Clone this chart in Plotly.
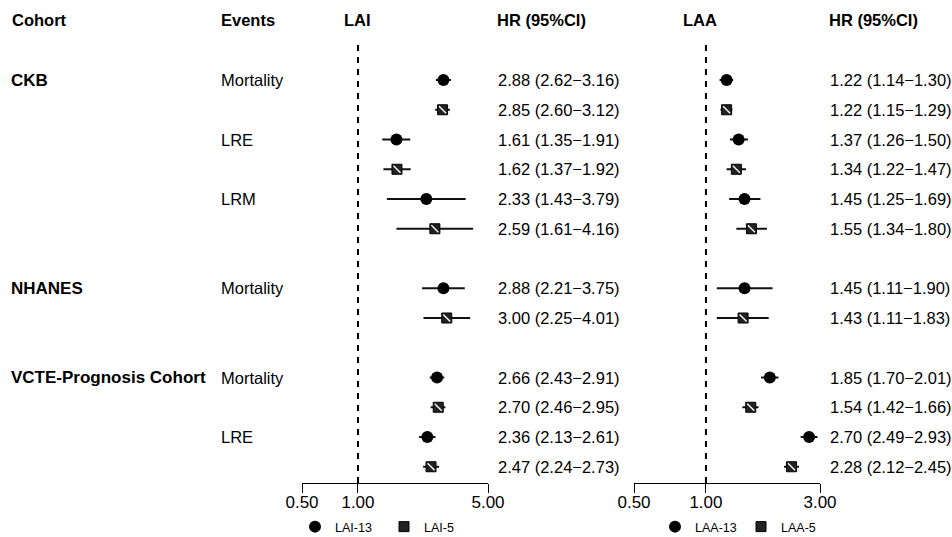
import math
import plotly.graph_objects as go

# ---------------- data ----------------
cohorts = ["CKB", "NHANES", "VCTE-Prognosis Cohort"]
cohort_events = [["Mortality", "LRE", "LRM"], ["Mortality"], ["Mortality", "LRE"]]
cohort_start_rows = [0, 7, 10]

# LAI hazard ratios (order follows cohort/event list)
lai13_hr = [2.88, 1.61, 2.33, 2.88, 2.66, 2.36]
lai13_lo = [2.62, 1.35, 1.43, 2.21, 2.43, 2.13]
lai13_hi = [3.16, 1.91, 3.79, 3.75, 2.91, 2.61]
lai5_hr = [2.85, 1.62, 2.59, 3.00, 2.70, 2.47]
lai5_lo = [2.60, 1.37, 1.61, 2.25, 2.46, 2.24]
lai5_hi = [3.12, 1.92, 4.16, 4.01, 2.95, 2.73]

# LAA hazard ratios
laa13_hr = [1.22, 1.37, 1.45, 1.45, 1.85, 2.70]
laa13_lo = [1.14, 1.26, 1.25, 1.11, 1.70, 2.49]
laa13_hi = [1.30, 1.50, 1.69, 1.90, 2.01, 2.93]
laa5_hr = [1.22, 1.34, 1.55, 1.43, 1.54, 2.28]
laa5_lo = [1.15, 1.22, 1.34, 1.11, 1.42, 2.12]
laa5_hi = [1.29, 1.47, 1.80, 1.83, 1.66, 2.45]

lai_ticks = [0.5, 1.0, 5.0]
lai_ticktext = ["0.50", "1.00", "5.00"]
laa_ticks = [0.5, 1.0, 3.0]
laa_ticktext = ["0.50", "1.00", "3.00"]

headers = ["Cohort", "Events", "LAI", "HR (95%CI)", "LAA", "HR (95%CI)"]

# ---------------- layout helpers ----------------
W = 952
H = 542          # slightly taller than the 537 window so the legend sits near the bottom
FONT = "Liberation Sans, Arial, sans-serif"

def px(x):
    return x / W

# row indices
row13, row5, event_rows, event_labels, cohort_rows = [], [], [], [], []
for ci, evs in enumerate(cohort_events):
    r = cohort_start_rows[ci]
    cohort_rows.append(r)
    for ev in evs:
        row13.append(r)
        row5.append(r + 1)
        event_rows.append(r)
        event_labels.append(ev)
        r += 2

fig = go.Figure()

def add_series(hr, lo, hi, rows, xa, name, legend, hatched):
    err_plus = [h - v for v, h in zip(hr, hi)]
    err_minus = [v - l for v, l in zip(hr, lo)]
    common = dict(
        x=hr, y=rows, xaxis=xa, yaxis="y", mode="markers", name=name,
        legend=legend,
        error_x=dict(type="data", array=err_plus, arrayminus=err_minus,
                     symmetric=False, color="#111111", thickness=2, width=0),
    )
    if not hatched:
        fig.add_trace(go.Scatter(**common, marker=dict(symbol="circle", size=12, color="#000000")))
    else:
        fig.add_trace(go.Scatter(**common, marker=dict(symbol="square", size=10, color="#222222",
                                                        line=dict(color="#000000", width=1))))
        fig.add_trace(go.Scatter(x=hr, y=rows, xaxis=xa, yaxis="y", mode="markers",
                                 showlegend=False, hoverinfo="skip",
                                 marker=dict(symbol="line-nw", size=7,
                                             line=dict(color="#ffffff", width=1.3))))

add_series(lai13_hr, lai13_lo, lai13_hi, row13, "x", "LAI-13", "legend", False)
add_series(lai5_hr, lai5_lo, lai5_hi, row5, "x", "LAI-5", "legend", True)
add_series(laa13_hr, laa13_lo, laa13_hi, row13, "x2", "LAA-13", "legend2", False)
add_series(laa5_hr, laa5_lo, laa5_hi, row5, "x2", "LAA-5", "legend2", True)

# pixel geometry
ROW0 = 80.0
STEP = 29.75
AXIS_PX = 483.0
def row_of(py):
    return (py - ROW0) / STEP

y_bottom = row_of(AXIS_PX)
y_top = row_of(0)

annotations = []
def add_text(x_px, row, text, size, bold=False, anchor="left"):
    annotations.append(dict(
        x=px(x_px), xref="paper", y=row, yref="y", text=(f"<b>{text}</b>" if bold else text),
        showarrow=False, xanchor=anchor, yanchor="middle",
        font=dict(family=FONT, size=size, color="#000000"),
    ))

header_row = row_of(20)
header_x = [(10, "left"), (219, "left"), (357, "center"), (495, "left"), (700, "center"), (827, "left")]
for (hx, anc), t in zip(header_x, headers):
    add_text(hx, header_row, t, 16.5, bold=True, anchor=anc)

for c, r in zip(cohorts, cohort_rows):
    add_text(9, r, c, 17, bold=True)
for e, r in zip(event_labels, event_rows):
    add_text(219, r, e, 16.5)

def fmt(v, l, h):
    return f"{v:.2f} ({l:.2f}\u2212{h:.2f})"

for i in range(len(row13)):
    add_text(496, row13[i], fmt(lai13_hr[i], lai13_lo[i], lai13_hi[i]), 16.5)
    add_text(496, row5[i], fmt(lai5_hr[i], lai5_lo[i], lai5_hi[i]), 16.5)
    add_text(828, row13[i], fmt(laa13_hr[i], laa13_lo[i], laa13_hi[i]), 16.5)
    add_text(828, row5[i], fmt(laa5_hr[i], laa5_lo[i], laa5_hi[i]), 16.5)

dash_top = row_of(45)
shapes = [
    dict(type="line", xref="x", yref="y", x0=1, x1=1, y0=dash_top, y1=y_bottom,
         line=dict(color="#000000", width=2, dash="6px,6px")),
    dict(type="line", xref="x2", yref="y", x0=1, x1=1, y0=dash_top, y1=y_bottom,
         line=dict(color="#000000", width=2, dash="6px,6px")),
]

axis_common = dict(
    type="log", showline=True, linecolor="#000000", linewidth=1,
    ticks="outside", ticklen=9, tickwidth=1, tickcolor="#000000",
    showgrid=False, zeroline=False, anchor="y", automargin=False,
    ticklabelstandoff=-5,
    tickfont=dict(family=FONT, size=17, color="#000000"),
)

legend_common = dict(
    orientation="h", xanchor="left", yanchor="bottom",
    xref="paper", yref="paper", y=0,
    font=dict(family=FONT, size=12.5, color="#000000"), bgcolor="rgba(0,0,0,0)",
    itemwidth=30, tracegroupgap=0, entrywidthmode="pixels",
)

fig.update_layout(
    width=W, height=H,
    margin=dict(l=0, r=0, t=0, b=0, pad=0),
    paper_bgcolor="#ffffff", plot_bgcolor="#ffffff",
    showlegend=True,
    xaxis=dict(**axis_common, domain=[px(302), px(488)],
               range=[math.log10(0.5), math.log10(5)],
               tickvals=lai_ticks, ticktext=lai_ticktext),
    xaxis2=dict(**axis_common, domain=[px(634), px(820)],
                range=[math.log10(0.5), math.log10(3)],
                tickvals=laa_ticks, ticktext=laa_ticktext),
    yaxis=dict(visible=False, range=[y_bottom, y_top], domain=[1 - AXIS_PX / H, 1]),
    legend=dict(**legend_common, x=px(295), entrywidth=44),
    legend2=dict(**legend_common, x=px(655), entrywidth=41),
    annotations=annotations,
    shapes=shapes,
)

fig.write_html("out.html",
               config={"displayModeBar": False},
               post_script="document.body.style.margin='0';document.body.style.overflow='hidden';")
